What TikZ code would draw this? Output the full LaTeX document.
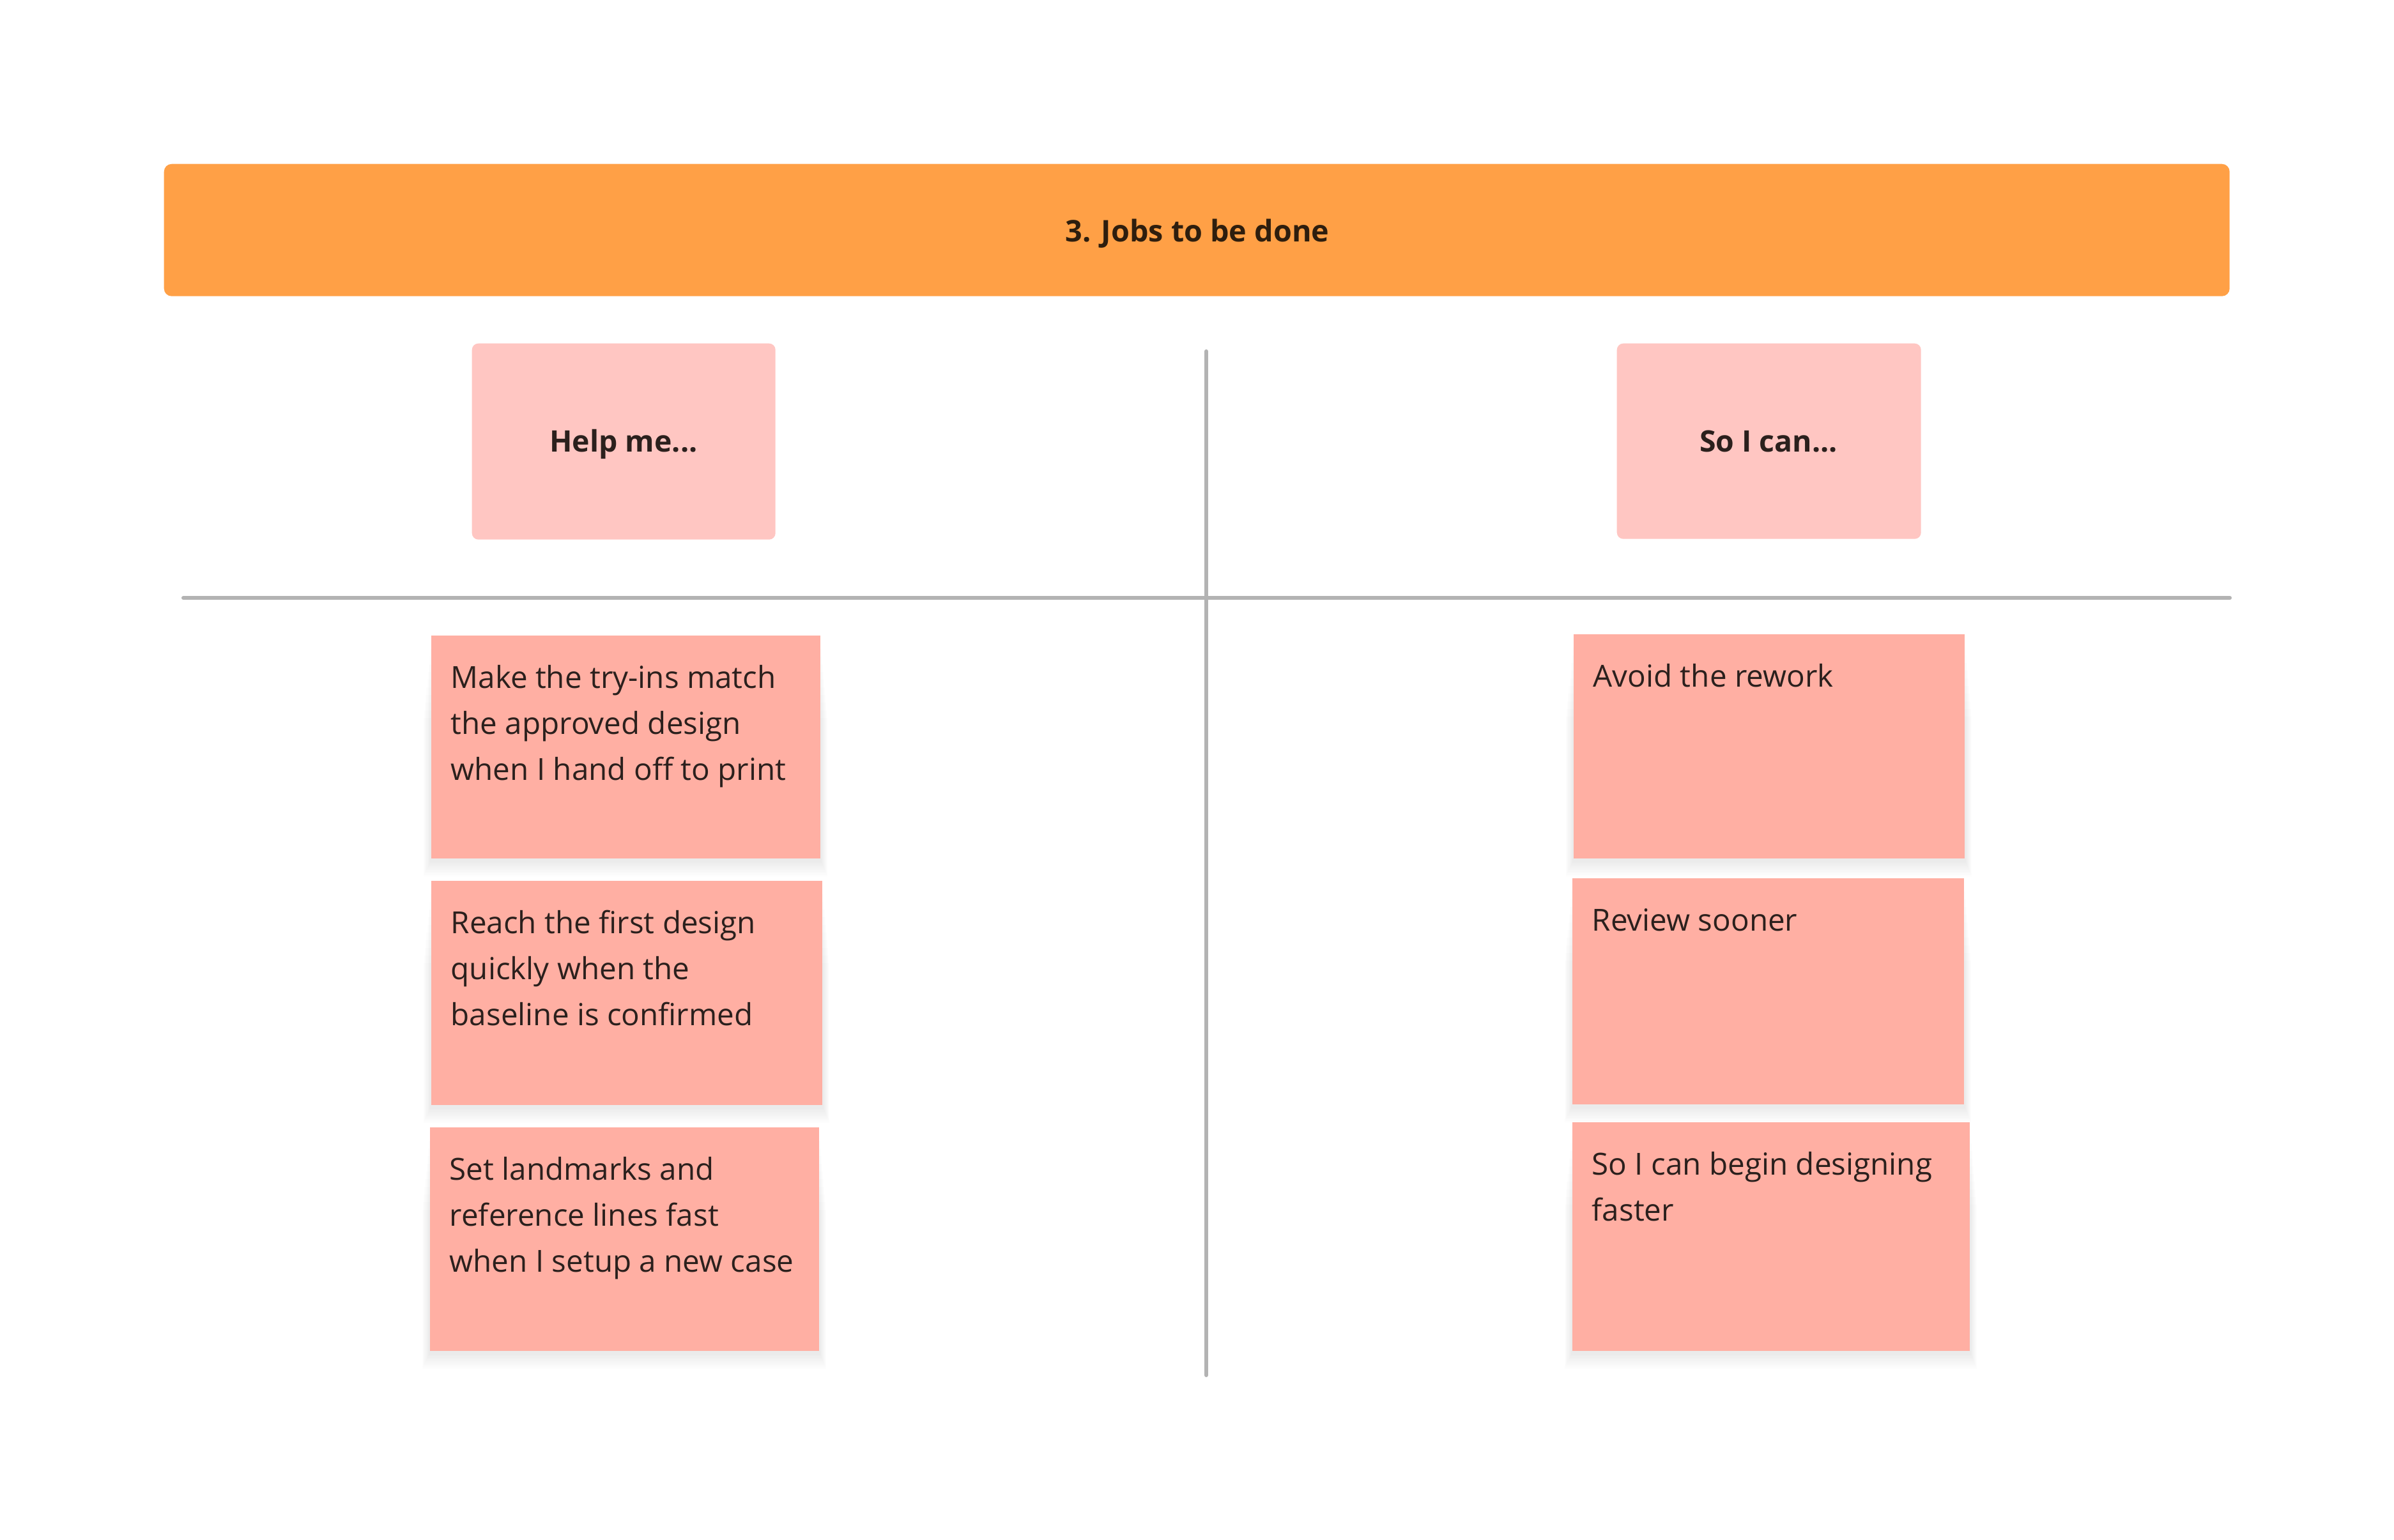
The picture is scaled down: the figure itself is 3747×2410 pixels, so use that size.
\documentclass[tikz,border=0pt]{standalone}
\usepackage{fontspec}
\setmainfont{Open Sans}
\usetikzlibrary{backgrounds}
\definecolor{bannerorange}{HTML}{FFA046}
\definecolor{headpink}{HTML}{FFC6C2}
\definecolor{stickyred}{HTML}{FFAFA3}
\definecolor{divgray}{HTML}{B3B3B3}
\definecolor{inktext}{HTML}{2B201D}
\definecolor{titleink}{HTML}{2E1E0E}
\newcommand\notelines[1]{\vtop{\baselineskip=20.49pt\lineskiplimit=-10pt #1}}
\newcommand\softshadow[1]{%
  \foreach \k in {1,...,10}{%
    \fill[black,opacity=0.009]
      ([xshift=-\k*0.11mm,yshift=-0.3mm-\k*0.25mm]#1.south west)
      rectangle ([xshift=\k*0.11mm,yshift=-1mm-\k*1.2mm]#1.north east);
  }}
\begin{document}
\begin{tikzpicture}[x=0.1mm,y=-0.1mm,
  divider/.style={draw=divgray,line width=0.6mm,line cap=round},
  banner/.style={fill=bannerorange,draw=none,rounded corners=1.2mm,anchor=north west,inner sep=0pt},
  headbox/.style={fill=headpink,draw=none,rounded corners=1mm,anchor=north west,inner sep=0pt},
  sticky/.style={fill=stickyred,draw=none,anchor=north west,inner sep=0pt},
  titletext/.style={text=titleink,font=\fontsize{13.3pt}{16pt}\selectfont\bfseries,inner sep=0pt,anchor=base},
  headtext/.style={text=inktext,font=\fontsize{13.2pt}{16pt}\selectfont\bfseries,inner sep=0pt,anchor=base},
  notetext/.style={text=inktext,font=\fontsize{13.54pt}{20.49pt}\selectfont,anchor=base west,inner sep=0pt}]
\useasboundingbox (0,0) rectangle (3747,2410);

% dividers
\coordinate (vt) at (1888,550);
\coordinate (vb) at (1888,2153);
\coordinate (hl) at (287,936);
\coordinate (hr) at (3490,936);
\draw[divider] (vt) -- (vb);
\draw[divider] (hl) -- (hr);

% banner
\node (banner) [banner,minimum width=323.3mm,minimum height=20.7mm] at (256,256) {};
\node (title) [titletext] at (1874,378) {3. Jobs to be done};

% column headers
\node (help) [headbox,minimum width=47.5mm,minimum height=30.7mm] at (738,537) {};
\node (helpt) [headtext] at (976,707) {Help me...};
\node (socan) [headbox,minimum width=47.6mm,minimum height=30.6mm] at (2530,537) {};
\node (socant) [headtext] at (2768,707) {So I can...};

% left stickies
\node (L1) [sticky,minimum width=60.9mm,minimum height=34.9mm] at (674,994) {};
\node (L1t) [notetext] at (705,1077) {\notelines{\hbox{Make the try-ins match}\hbox{the approved design}\hbox{when I hand off to print}}};
\node (L2) [sticky,minimum width=61.2mm,minimum height=35.1mm] at (674,1378) {};
\node (L2t) [notetext] at (705,1461) {\notelines{\hbox{Reach the first design}\hbox{quickly when the}\hbox{baseline is confirmed}}};
\node (L3) [sticky,minimum width=60.9mm,minimum height=35.0mm] at (672,1764) {};
\node (L3t) [notetext] at (703,1847) {\notelines{\hbox{Set landmarks and}\hbox{reference lines fast}\hbox{when I setup a new case}}};

% right stickies
\node (R1) [sticky,minimum width=61.2mm,minimum height=35.1mm] at (2462,992) {};
\node (R1t) [notetext] at (2493,1075) {Avoid the rework};
\node (R2) [sticky,minimum width=61.3mm,minimum height=35.4mm] at (2460,1374) {};
\node (R2t) [notetext] at (2491,1457) {Review sooner};
\node (R3) [sticky,minimum width=62.2mm,minimum height=35.8mm] at (2460,1756) {};
\node (R3t) [notetext] at (2491,1839) {\notelines{\hbox{So I can begin designing}\hbox{faster}}};

\begin{scope}[on background layer]
  \fill[white] (0,0) rectangle (3747,2410);
  \softshadow{L1}\softshadow{L2}\softshadow{L3}
  \softshadow{R1}\softshadow{R2}\softshadow{R3}
\end{scope}
\end{tikzpicture}
\end{document}
